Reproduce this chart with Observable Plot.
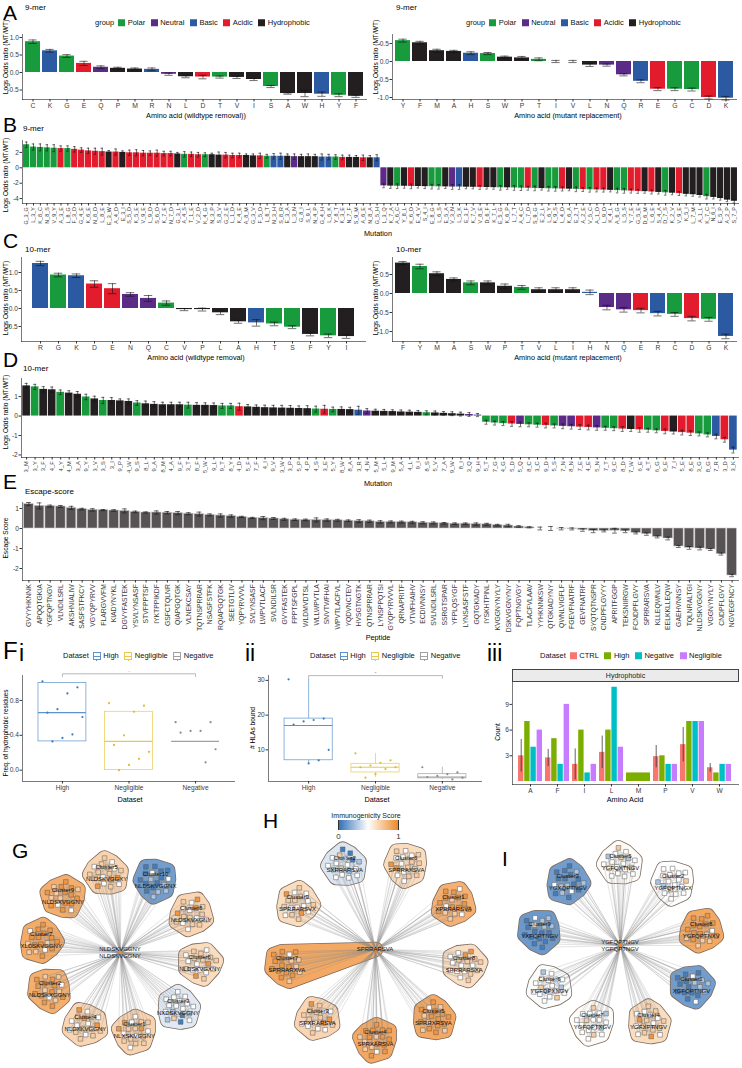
<!DOCTYPE html>
<html><head><meta charset="utf-8">
<script src="https://cdn.jsdelivr.net/npm/d3@7"></script>
<script src="https://cdn.jsdelivr.net/npm/@observablehq/plot@0.6"></script>
<style>
body{margin:0;background:#fff;}
#root{position:relative;width:742px;height:1068px;overflow:hidden;font-family:"Liberation Sans",Arial,Helvetica,sans-serif;color:#000;background:#fff;}
.t{position:absolute;white-space:nowrap;line-height:1;}
</style></head><body><div id="root"></div><script>
// ================= DATA =================
const groupNames = ["Polar","Neutral","Basic","Acidic","Hydrophobic"];
const groupColors = ["#179b3d","#5c2a87","#2c5aa2","#e21c2c","#231f20"];
const polarAA = ["C","G","S","T","Y"], neutralAA = ["N","Q"], basicAA = ["H","K","R"], acidicAA = ["D","E"], hydrophobicAA = ["A","F","I","L","M","P","V","W"];

// A: 9-mer
const a9RemovalAA = ["C","K","G","E","Q","P","M","R","N","L","D","T","V","I","S","A","W","H","Y","F"];
const a9RemovalLOR = [0.88,0.62,0.47,0.26,0.15,0.12,0.10,0.09,-0.05,-0.12,-0.13,-0.13,-0.14,-0.20,-0.40,-0.60,-0.60,-0.62,-0.65,-0.68];
const a9RemovalErr = [0.05,0.04,0.04,0.06,0.04,0.03,0.03,0.04,0.03,0.03,0.05,0.03,0.03,0.03,0.03,0.02,0.09,0.06,0.04,0.03];
const a9ReplAA = ["Y","F","M","A","H","S","W","P","T","I","V","L","N","Q","R","E","G","C","D","K"];
const a9ReplLOR = [0.58,0.52,0.30,0.28,0.23,0.22,0.12,0.10,0.06,0.0,0.0,-0.10,-0.10,-0.37,-0.55,-0.77,-0.77,-0.78,-1.0,-1.02];
const a9ReplErr = [0.04,0.04,0.04,0.03,0.04,0.03,0.03,0.04,0.04,0.03,0.03,0.04,0.03,0.03,0.04,0.04,0.04,0.04,0.04,0.05];

// B: 9-mer mutations
const b9Mutations = ("G_3_G L_3_Y K_8_C N_8_S V_9_Y A_3_E L_8_G F_3_D G_4_E K_6_E N_8_D L_8_E E_3_W A_4_D E_3_I S_5_D K_5_E V_9_E L_9_D S_6_D K_7_E N_7_D G_3_L A_4_S T_1_E V_2_D K_4_G N_3_P S_8_V G_2_E L_1_D K_4_E A_8_M G_3_V F_5_D L_6_T N_3_H S_8_R E_3_A L_3_N G_8_I S_9_L N_4_P G_4_H L_6_K Y_8_T K_3_E N_7_F S_9_M A_6_E N_8_A G_5_H " +
  "L_3_Q K_7_A A_6_C Y_8_L K_6_D E_4_V S_4_I E_8_G L_6_S E_5_A V_3_N L_5_K E_3_F K_7_V V_8_E D_6_F K_7_L E_5_G K_6_P L_7_T A_4_C L_7_D S_9_G E_2_L L_6_Y K_9_S L_4_D K_6_A E_2_T A_2_E V_5_C A_1_D L_9_D K_4_L A_6_G L_5_S Y_7_E G_5_E D_6_M L_6_E S_4_A D_7_S K_2_V V_9_E K_5_I L_7_M A_1_L K_7_C N_6_I E_5_P A_2_P S_7_P").split(" ");
const b9LOR = [3.0,2.7,2.65,2.6,2.55,2.5,2.5,2.4,2.3,2.2,2.15,2.1,2.05,2.05,2.0,1.95,1.95,1.9,1.9,1.9,1.85,1.85,1.8,1.75,1.75,1.7,1.7,1.7,1.65,1.65,1.6,1.6,1.6,1.55,1.55,1.5,1.5,1.5,1.5,1.45,1.45,1.45,1.45,1.4,1.4,1.4,1.35,1.35,1.35,1.3,1.3,1.3,
  -2.35,-2.38,-2.4,-2.4,-2.42,-2.43,-2.45,-2.45,-2.47,-2.48,-2.5,-2.5,-2.52,-2.53,-2.55,-2.56,-2.58,-2.6,-2.6,-2.62,-2.65,-2.66,-2.68,-2.7,-2.72,-2.74,-2.76,-2.78,-2.8,-2.83,-2.86,-2.88,-2.9,-2.93,-2.96,-3.0,-3.03,-3.07,-3.1,-3.15,-3.2,-3.25,-3.3,-3.35,-3.45,-3.5,-3.6,-3.75,-3.85,-4.0,-4.2,-4.35];
const b9Err = [0.35,0.4,0.45,0.4,0.45,0.35,0.35,0.35,0.3,0.35,0.4,0.45,0.2,0.4,0.2,0.35,0.4,0.35,0.3,0.4,0.3,0.3,0.2,0.35,0.3,0.3,0.25,0.2,0.4,0.35,0.3,0.3,0.2,0.25,0.35,0.25,0.35,0.4,0.3,0.35,0.3,0.35,0.3,0.4,0.35,0.3,0.3,0.3,0.25,0.35,0.3,0.4,
  0.25,0.3,0.3,0.25,0.3,0.2,0.25,0.3,0.3,0.2,0.3,0.3,0.2,0.2,0.25,0.2,0.2,0.3,0.2,0.3,0.3,0.25,0.3,0.2,0.3,0.3,0.25,0.2,0.3,0.25,0.3,0.25,0.25,0.2,0.3,0.3,0.25,0.25,0.2,0.25,0.2,0.3,0.2,0.25,0.2,0.2,0.2,0.3,0.2,0.2,0.2,0.2];

// C: 10-mer
const c10RemovalAA = ["R","G","K","D","E","N","Q","C","V","P","L","A","H","T","S","F","Y","I"];
const c10RemovalLOR = [1.25,0.93,0.91,0.68,0.55,0.39,0.28,0.15,-0.03,-0.03,-0.12,-0.37,-0.40,-0.43,-0.52,-0.72,-0.76,-0.78];
const c10RemovalErr = [0.06,0.05,0.05,0.09,0.14,0.05,0.08,0.06,0.03,0.04,0.05,0.04,0.09,0.05,0.04,0.04,0.05,0.05];
const c10ReplAA = ["F","Y","M","A","S","W","P","T","V","L","I","H","N","Q","E","R","C","D","G","K"];
const c10ReplLOR = [0.80,0.71,0.52,0.37,0.28,0.28,0.19,0.16,0.10,0.10,0.10,0.03,-0.37,-0.43,-0.45,-0.53,-0.55,-0.66,-0.68,-1.13];
const c10ReplErr = [0.04,0.06,0.05,0.04,0.05,0.05,0.06,0.05,0.05,0.05,0.05,0.06,0.06,0.06,0.06,0.06,0.05,0.06,0.05,0.06];

// D: 10-mer mutations
const d10Mutations = ("3_M 3_Y 3_F 4_F 4_Y 4_M 3_A 9_Y 3_V 3_S 3_I 9_P 4_W 9_S 8_L 9_A 8_M 4_A 9_F 3_T 8_F 5_W 9_L 9_T 8_Y 4_D 5_F 7_F 4_I 9_V 3_W 3_P 5_P 4_P 4_S 3_E 5_Y 8_W 8_A 3_R 4_N " +
  "5_M 5_L 9_M 5_A 4_L 9_I 8_S 5_V 7_A 9_W 8_I 3_Q 9_H 5_T 7_G 4_G 5_D 5_Q 8_C 3_C 9_D 5_S 7_N 8_N 7_E 4_E 5_N 7_T 9_C 8_D 7_W 6_E 4_T 6_G 9_E 7_I 5_E 8_E 3_G 8_G 7_R 3_D 3_K").split(" ");
const d10LOR = [1.55,1.5,1.37,1.35,1.22,1.18,1.12,0.98,0.88,0.8,0.8,0.78,0.75,0.67,0.63,0.6,0.58,0.58,0.58,0.56,0.55,0.55,0.54,0.52,0.52,0.48,0.47,0.45,0.43,0.42,0.41,0.4,0.39,0.38,0.36,0.35,0.34,0.34,0.33,0.3,0.26,
  0.25,0.24,0.23,0.21,0.2,0.19,0.17,0.16,0.14,0.12,0.1,0.08,0.05,
  -0.32,-0.36,-0.39,-0.41,-0.43,-0.45,-0.47,-0.49,-0.51,-0.53,-0.55,-0.57,-0.59,-0.61,-0.63,-0.65,-0.67,-0.69,-0.71,-0.73,-0.76,-0.79,-0.82,-0.85,-0.88,-0.92,-0.97,-1.05,-1.22,-1.75];
const d10Err = [0.13,0.13,0.14,0.14,0.12,0.12,0.14,0.14,0.14,0.16,0.15,0.1,0.13,0.12,0.14,0.14,0.13,0.13,0.13,0.15,0.14,0.13,0.13,0.13,0.13,0.18,0.12,0.12,0.13,0.13,0.14,0.14,0.13,0.15,0.15,0.2,0.12,0.13,0.12,0.2,0.12,
  0.1,0.1,0.09,0.1,0.1,0.09,0.1,0.1,0.09,0.1,0.1,0.1,0.08,0.1,0.1,0.1,0.12,0.12,0.1,0.1,0.12,0.1,0.12,0.12,0.12,0.12,0.12,0.1,0.1,0.12,0.1,0.12,0.1,0.1,0.12,0.1,0.12,0.12,0.1,0.1,0.12,0.12,0.15];

// E: escape score
const ePeptides = ["GVYYHKNNK","APQQTGKIA","YGFQPTNGV","VLNDILSRL","AKSHNIALIW","SASFSTFKCY","VGYQPYRVV","FLARGVVFM","KIADYNYKL","DGVYFASTEK","YSVLYNSASF","STVFPPTSF","IYKTPPIKDF","GSFCTQLNR","QIAPGQTGK","VLNEKCSAY","TQTNSPRRAR","NSASFSTFK","RQIAPGQTGK","SEETGTLIV","YQPYRVVVL","SVLYNSASF","LWPVTLACF","SVLNDILSR","GVYFASTEK","FPPTSFGPL","WLDMVDTSL","WLLWPVTLA","SNVTWFHAI","WPVTLACFVL","YQDVNCTEV","HVSGTNGTK","QTNSPRRAR",
  "LYNSPPQTSI","GYQPYRVVVL","QRNAPRITF","VTWFHAIHV","ECDIVNNSY","SVLNDILSRL","SSRGTSPAR","YFPLQSYGF","LYNSASFSTF","GQTGKIADY","IYSKHTPINL","KVGGNYNYLY","DSKVGGNYNY","FQPTNGVGY","TLACFVLAAV","YYHKNNKSW","QTGKIADYNY","QWNLVIGFLF","FGEVFNATRF","GEVFNATRF","SYQTQTNSPR","CNDPFLGVYY","APRITFGGP","TEKSNIIRGW","FCNDPFLGVY","SPRRARSVA","KLLEQWNLV","EELKKLLEQW","GAEHVNNSY","TQLNRALTGI","NLDSKVGGNY","VGGNYNYLY","CNDPFLGVY","NGVEGFNCY"];
const eScore = [1.22,1.13,1.12,1.1,1.03,0.97,0.93,0.92,0.9,0.88,0.83,0.8,0.8,0.79,0.77,0.74,0.72,0.68,0.65,0.62,0.58,0.53,0.52,0.5,0.46,0.44,0.43,0.43,0.42,0.41,0.39,0.37,0.36,
  0.33,0.33,0.32,0.31,0.29,0.28,0.26,0.24,0.24,0.22,0.21,0.17,0.15,0.10,0.06,0.0,0.0,-0.01,-0.02,-0.08,-0.13,-0.12,-0.11,-0.14,-0.22,-0.28,-0.42,-0.50,-0.90,-0.97,-1.0,-1.05,-1.28,-2.35];
const eErr = [0.08,0.15,0.05,0.05,0.08,0.04,0.06,0.03,0.04,0.1,0.04,0.03,0.08,0.06,0.08,0.05,0.1,0.05,0.08,0.06,0.03,0.03,0.08,0.05,0.05,0.04,0.04,0.1,0.06,0.05,0.04,0.07,0.06,
  0.06,0.05,0.05,0.05,0.05,0.05,0.04,0.04,0.04,0.06,0.05,0.04,0.06,0.04,0.03,0.07,0.1,0.06,0.05,0.06,0.08,0.05,0.12,0.07,0.05,0.06,0.05,0.07,0.05,0.07,0.07,0.05,0.05,0.06];

// F i / ii: boxplots
const fDatasets = ["High","Negligible","Negative"];
const fiHighPts = [1.02,0.95,0.88,0.70,0.66,0.61,0.41,0.37,0.33];
const fiNegligiblePts = [0.77,0.74,0.67,0.40,0.29,0.21,0.13,0.06,0.0];
const fiNegativePts = [0.55,0.55,0.45,0.45,0.43,0.24,0.09];
const fiQ1 = [0.33,0.0,0.33], fiMedian = [0.66,0.33,0.33], fiQ3 = [1.0,0.67,0.33], fiWhiskLo = [0.33,0.0,0.33], fiWhiskHi = [1.0,0.67,0.33];
const fiiHighPts = [30.3,19.0,18.6,18.2,17.3,10.0,7.0,6.1];
const fiiNegligiblePts = [9.0,7.0,6.3,5.5,5.0,5.0,4.5,3.0,2.0];
const fiiNegativePts = [5.0,3.5,3.0,2.5,2.2,2.0,1.5];
const fiiQ1 = [7,3.5,1.8], fiiMedian = [17,5,2.2], fiiQ3 = [19,6,3], fiiWhiskLo = [6.1,2,1.5], fiiWhiskHi = [30.3,9,5];
// F iii: counts
const f3AA = ["A","F","I","L","M","P","V","W"];
const f3Sets = ["CTRL","High","Negative","Negligible"];
const f3Ctrl = [3.0,2.75,2.0,3.4,null,2.9,4.3,1.6];
const f3CtrlErr = [1.9,1.0,1.8,1.9,null,1.3,2.0,0.5];
const f3High = [7,5,6,6,1,3,7,1];
const f3Negative = [4,2,1,11,null,2,7,2];
const f3Negligible = [6,9,2,4,null,2,7,2];

// G/H/I networks (node codes: o=0.95 l=0.72 w=0.5 c=0.3 b=0.05)
const gCenter = "NLDSKVGGNY";
const gClusters = ["Cluster5","Cluster10","Cluster8","Cluster6","Cluster3","Cluster1","Cluster4","Cluster2","Cluster7","Cluster9"];
const gMotifs = ["NLDSKVGGXY","NLDSKVGGNX","NLDSKVXGNY","NLDSKVGXNY","NXDSKVGGNY","NLXSKVGGNY","NLDXKVGGNY","NLDSKXGGNY","XLDSKVGGNY","NLDSXVGGNY"];
const gNodes = ["lwlolwwlolwlwlolwl","bcbbwcbbcbwbbcbbcb","lwwlolwlwwlolwlwlo","wlwlowlwwlolwlwlwl","wwcwbwwlwcwwbwwcww","lwlolwlwllowlwlolw","wlolwlwlolwlwwlolw","olowoloolowolooloo","ooloowoolooloowolo","loolowooloolooowol"];
const hCenter = "SPRRARSVA";
const hClusters = ["Cluster2","Cluster6","Cluster1","Cluster8","Cluster5","Cluster4","Cluster3","Cluster7","Cluster9"];
const hMotifs = ["SXRRARSVA","SPRRAXSVA","XPRRARSVA","SPRRARSXA","SPRRXRSVA","SPRXARSVA","SPXRARSVA","SPRRARXVA","SPRRARSVX"];
const hNodes = ["wlwcwbwlwcbwwcwbww","lwlwwlowlwlwwlolwl","olowoloolowoolooow","wlwlwwolwlwwlwolwl","oolooloowoolooolol","loooloolowoolooloo","lwlolwwlowlwlwlolw","ooloolowoolooloolo","wlwwlolwlwwlwlolwl"];
const hWedgeCluster = "Cluster7";
const iCenter = "YGFQPTNGV";
const iClusters = ["Cluster5","Cluster2","Cluster8","Cluster1","Cluster4","Cluster7","Cluster6","Cluster9","Cluster3"];
const iMotifs = ["YGFQXTNGV","YGFQPTNGX","YGFQPTNXV","XGFQPTNGV","YGFXPTNGV","YGFQPTXGV","YGFQPXNGV","YXFQPTNGV","YGXQPTNGV"];
const iNodes = ["wwlwwcwwlwwwcwwlww","wwwlwwcwwwlwwwcwww","ooloolowoolooloolo","bcbbcbwbbcbbcbbwbc","lwlwlowlwlwlowlwlw","wwlwwwcwwlwwwlwwcw","wcwwlwwwcwwlwwwcww","bbcbwbbcbbcbwbbcbb","cbbcbwbbcbbwcbbcbb"];

// ================= HELPERS =================
const FONT = '"Liberation Sans", Arial, Helvetica, sans-serif';
const root = document.getElementById("root");
const baseStyle = {fontFamily: FONT, fontSize: "6.6px", color: "#333", background: "transparent", overflow: "visible"};
const fmt1 = d => d.toFixed(1);
const fmt0 = d => String(d);
const groupOf = aa => polarAA.includes(aa) ? 0 : neutralAA.includes(aa) ? 1 : basicAA.includes(aa) ? 2 : acidicAA.includes(aa) ? 3 : 4;
const aaColor = aa => groupColors[groupOf(aa)];

function place(el, x, y) { el.style.position = "absolute"; el.style.left = x + "px"; el.style.top = y + "px"; root.appendChild(el); return el; }
function addText(str, x, y, o = {}) {
  const d = document.createElement("div");
  d.className = "t"; d.textContent = str;
  const s = o.size ?? 8;
  d.style.fontSize = s + "px"; d.style.left = x + "px"; d.style.top = y + "px";
  d.style.fontWeight = o.weight ?? "normal"; d.style.color = o.color ?? "#000";
  if (o.rotate) d.style.transform = "translate(-50%,-50%) rotate(-90deg)";
  else d.style.transform = `translate(${o.anchor === "middle" ? "-50%" : o.anchor === "end" ? "-100%" : "0"},-50%)`;
  root.appendChild(d); return d;
}
function addLetter(str, x, capTop, size = 21) {
  const d = document.createElement("div");
  d.className = "t"; d.textContent = str;
  d.style.fontSize = size + "px"; d.style.left = x + "px"; d.style.top = (capTop - 0.13 * size) + "px";
  root.appendChild(d);
}
function swatchLegend(x, y, title, items, glyph) {
  const d = document.createElement("div");
  d.className = "t";
  d.style.cssText += `left:${x}px;top:${y}px;transform:translateY(-50%);display:flex;align-items:center;font-size:7.5px;color:#111;`;
  d.innerHTML = `<span style="margin-right:4px">${title}</span>` + items.map(([lab, col]) => glyph(col) + `<span style="margin-right:5.5px">${lab}</span>`).join("");
  root.appendChild(d);
}
const fillGlyph = col => `<span style="display:inline-block;width:7px;height:7px;background:${col};margin-right:2.5px"></span>`;
const boxGlyph = col => `<span style="position:relative;display:inline-block;width:6px;height:6px;border:0.8px solid ${col};margin-right:2.5px"><span style="position:absolute;left:0;right:0;top:2.6px;height:0.9px;background:${col}"></span><span style="position:absolute;left:2.6px;top:-1.5px;width:0.8px;height:1.5px;background:${col}"></span><span style="position:absolute;left:2.6px;bottom:-1.5px;width:0.8px;height:1.5px;background:${col}"></span></span>`;
const AXIS_TEXT = "#3a3a3a";

function barPanel(o) {
  const n = o.values.length;
  const rows = o.values.map((v, i) => ({i, v, e: o.errors[i], fill: o.fill(i)}));
  const bw = (o.width - o.mL - o.mR) / (n + 0.2) * 0.9;
  const cap = bw * (o.capFrac ?? 0.22);
  const plot = Plot.plot({
    width: o.width, height: o.height,
    marginLeft: o.mL, marginRight: o.mR, marginTop: o.mT, marginBottom: o.mB,
    style: {...baseStyle},
    x: {type: "band", domain: d3.range(n), paddingInner: 0.1, paddingOuter: 0.15},
    y: {domain: o.domain},
    color: {type: "identity"},
    marks: [
      Plot.barY(rows, {x: "i", y: "v", fill: "fill", stroke: o.stroke ?? "none", strokeWidth: o.strokeWidth ?? 0}),
      Plot.ruleX(rows, {x: "i", y1: d => d.v - d.e, y2: d => d.v + d.e, stroke: "#111", strokeWidth: 0.6}),
      Plot.tickY(rows, {x: "i", y: d => d.v + d.e, stroke: "#111", strokeWidth: 0.6, insetLeft: cap, insetRight: cap}),
      Plot.tickY(rows, {x: "i", y: d => d.v - d.e, stroke: "#111", strokeWidth: 0.6, insetLeft: cap, insetRight: cap}),
      Plot.frame({anchor: "left", stroke: "#222", strokeWidth: 0.6}),
      Plot.frame({anchor: "bottom", stroke: "#222", strokeWidth: 0.6}),
      Plot.axisY({ticks: o.ticks, tickFormat: o.fmt, tickSize: 2.5, tickPadding: 1.2, label: null, fill: AXIS_TEXT, stroke: "#333"}),
      Plot.axisX({tickFormat: i => o.labels[i], tickSize: 2.5, tickPadding: 1.2, tickRotate: o.rotate ?? 0, label: null, fontSize: o.xFont ?? 6.8, fill: AXIS_TEXT, stroke: "#333"})
    ]
  });
  place(plot, o.left, o.top);
}

function boxPanel(o) {
  const rows = fDatasets.map((g, k) => ({g: k + 1, q1: o.q1[k], med: o.med[k], q3: o.q3[k], lo: o.lo[k], hi: o.hi[k], stroke: o.colors[k]}));
  const pts = [];
  o.pts.forEach((arr, k) => arr.forEach((v, j) => pts.push({g: k + 1, j, v, fill: o.ptColors[k]})));
  const jit = j => (((j * 7) % 9) - 4) / 4 * 0.3;
  const allMax = d3.max([...pts.map(p => p.v), ...o.hi]);
  const range = o.domain[1] - o.domain[0];
  const bTop = allMax + o.gap * range, bDrop = bTop - 0.025 * range;
  const bracket = [{x: 1, y: bDrop}, {x: 1, y: bTop}, {x: 3, y: bTop}, {x: 3, y: bDrop}];
  const plot = Plot.plot({
    width: o.width, height: o.height, marginLeft: o.mL, marginRight: o.mR, marginTop: o.mT, marginBottom: o.mB,
    style: {...baseStyle},
    x: {domain: [0.4, 3.6]}, y: {domain: o.domain},
    color: {type: "identity"},
    marks: [
      Plot.ruleX(rows, {x: "g", y1: "lo", y2: "q1", stroke: "stroke", strokeWidth: 0.7}),
      Plot.ruleX(rows, {x: "g", y1: "q3", y2: "hi", stroke: "stroke", strokeWidth: 0.7}),
      Plot.rect(rows, {x1: d => d.g - 0.36, x2: d => d.g + 0.36, y1: "q1", y2: "q3", fill: "white", stroke: "stroke", strokeWidth: 0.7}),
      Plot.ruleY(rows, {x1: d => d.g - 0.36, x2: d => d.g + 0.36, y: "med", stroke: "stroke", strokeWidth: 1.1}),
      Plot.dot(pts, {x: d => d.g + jit(d.j), y: "v", r: 1.1, fill: "fill"}),
      Plot.line(bracket, {x: "x", y: "y", stroke: "#9a9a9a", strokeWidth: 0.7}),
      Plot.text([o.sig], {x: 2, y: bTop, text: d => d, dy: -4, fontSize: 6, fill: "#555"}),
      Plot.ruleX([0.4], {stroke: "#222", strokeWidth: 0.6}),
      Plot.ruleY([o.domain[0]], {stroke: "#222", strokeWidth: 0.6}),
      Plot.axisY({ticks: o.ticks, tickFormat: o.fmt, tickSize: 2.5, tickPadding: 1.2, label: null, fill: AXIS_TEXT, stroke: "#333"}),
      Plot.axisX({ticks: [1, 2, 3], tickFormat: i => fDatasets[i - 1], tickSize: 2.5, tickPadding: 1.2, label: null, fill: AXIS_TEXT, stroke: "#333"})
    ]
  });
  place(plot, o.left, o.top);
}

// ================= PANEL A =================
addLetter("A", 3, 5);
addText("9-mer", 25, 8);
addText("9-mer", 396, 8);
const grpItems = groupNames.map((g, i) => [g, groupColors[i]]);
swatchLegend(95, 23, "group", grpItems, fillGlyph);
swatchLegend(466, 23, "group", grpItems, fillGlyph);
barPanel({labels: a9RemovalAA, values: a9RemovalLOR, errors: a9RemovalErr, fill: i => aaColor(a9RemovalAA[i]),
  left: 0, top: 30, width: 371, height: 79, mL: 22, mR: 5, mT: 4, mB: 10, domain: [-0.771, 1.086], ticks: [-0.5, 0, 0.5, 1], fmt: fmt1});
barPanel({labels: a9ReplAA, values: a9ReplLOR, errors: a9ReplErr, fill: i => aaColor(a9ReplAA[i]),
  left: 371, top: 30, width: 371, height: 79, mL: 21, mR: 6, mT: 4, mB: 10, domain: [-1.056, 0.75], ticks: [-1, -0.5, 0, 0.5], fmt: fmt1});
addText("Logs Odds ratio (MT/WT)", 6, 57, {size: 6.6, rotate: true});
addText("Logs Odds ratio (MT/WT)", 375.5, 57, {size: 6.6, rotate: true});
addText("Amino acid (wildtype removal))", 196, 115.5, {size: 7.3, anchor: "middle"});
addText("Amino acid (mutant replacement)", 568, 115.5, {size: 7.3, anchor: "middle"});

// ================= PANEL B =================
addLetter("B", 3, 117);
addText("9-mer", 23, 129);
barPanel({labels: b9Mutations, values: b9LOR, errors: b9Err, fill: i => aaColor(b9Mutations[i].slice(-1)),
  left: 0, top: 136, width: 742, height: 100, mL: 22, mR: 4, mT: 4, mB: 33, domain: [-4.64, 3.55], ticks: [-4, -2, 0, 2], fmt: fmt0,
  rotate: -90, xFont: 5.4, capFrac: 0.3});
addText("Logs Odds ratio (MT/WT)", 6, 175, {size: 6.6, rotate: true});
addText("Mutation", 378, 234, {size: 7.3, anchor: "middle"});

// ================= PANEL C =================
addLetter("C", 3, 233);
addText("10-mer", 25, 250);
addText("10-mer", 396, 250);
barPanel({labels: c10RemovalAA, values: c10RemovalLOR, errors: c10RemovalErr, fill: i => aaColor(c10RemovalAA[i]),
  left: 0, top: 254, width: 371, height: 99, mL: 21, mR: 6, mT: 3, mB: 12, domain: [-0.917, 1.417], ticks: [-0.5, 0, 0.5, 1], fmt: fmt1});
barPanel({labels: c10ReplAA, values: c10ReplLOR, errors: c10ReplErr, fill: i => aaColor(c10ReplAA[i]),
  left: 371, top: 254, width: 371, height: 99, mL: 21, mR: 6, mT: 3, mB: 12, domain: [-1.263, 0.947], ticks: [-1, -0.5, 0, 0.5], fmt: fmt1});
addText("Logs Odds ratio (MT/WT)", 6, 298, {size: 6.6, rotate: true});
addText("Logs Odds ratio (MT/WT)", 375.5, 298, {size: 6.6, rotate: true});
addText("Amino acid (wildtype removal)", 196, 357.5, {size: 7.3, anchor: "middle"});
addText("Amino acid (mutant replacement)", 568, 357.5, {size: 7.3, anchor: "middle"});

// ================= PANEL D =================
addLetter("D", 3, 352);
addText("10-mer", 23, 369);
barPanel({labels: d10Mutations, values: d10LOR, errors: d10Err, fill: i => aaColor(d10Mutations[i].slice(-1)),
  left: 0, top: 375, width: 742, height: 110, mL: 21, mR: 4, mT: 3, mB: 28, domain: [-2.13, 1.93], ticks: [-2, -1, 0, 1], fmt: fmt0,
  rotate: -90, xFont: 5.8, capFrac: 0.3});
addText("Logs Odds ratio (MT/WT)", 6, 412, {size: 6.6, rotate: true});
addText("Mutation", 378, 484, {size: 7.3, anchor: "middle"});

// ================= PANEL E =================
addLetter("E", 3, 474);
addText("Escape-score", 25, 492);
barPanel({labels: ePeptides, values: eScore, errors: eErr, fill: () => "#575354", stroke: "#c9c9c9", strokeWidth: 0.6,
  left: 0, top: 499, width: 742, height: 137, mL: 22, mR: 4, mT: 3, mB: 56, domain: [-2.6, 1.3], ticks: [-2, -1, 0, 1], fmt: fmt0,
  rotate: -90, xFont: 6.8, capFrac: 0.25});
addText("Escape Score", 6, 538, {size: 6.6, rotate: true});
addText("Peptide", 378, 638, {size: 7.3, anchor: "middle"});

// ================= PANEL F =================
addLetter("F", 3, 642, 24);
addLetter("i", 19, 645, 23);
addLetter("ii", 245, 645, 23);
addLetter("iii", 487, 645, 23);
const boxCols = ["#5d93cc", "#e8c94e", "#a0a0a0"];
const ptCols = ["#3a7bbd", "#e0b926", "#8a8a8a"];
swatchLegend(63, 656, "Dataset", fDatasets.map((g, k) => [g, boxCols[k]]), boxGlyph);
swatchLegend(310, 656, "Dataset", fDatasets.map((g, k) => [g, boxCols[k]]), boxGlyph);
boxPanel({q1: fiQ1, med: fiMedian, q3: fiQ3, lo: fiWhiskLo, hi: fiWhiskHi, pts: [fiHighPts, fiNegligiblePts, fiNegativePts],
  colors: boxCols, ptColors: ptCols, left: 0, top: 664, width: 240, height: 130, mL: 22, mR: 5, mT: 11, mB: 13,
  domain: [-0.13, 1.086], ticks: [0, 0.4, 0.8], fmt: fmt1, sig: ".", gap: 0.07});
boxPanel({q1: fiiQ1, med: fiiMedian, q3: fiiQ3, lo: fiiWhiskLo, hi: fiiWhiskHi, pts: [fiiHighPts, fiiNegligiblePts, fiiNegativePts],
  colors: boxCols, ptColors: ptCols, left: 240, top: 664, width: 250, height: 130, mL: 28, mR: 8, mT: 11, mB: 13,
  domain: [0.9, 31.4], ticks: [10, 20, 30], fmt: fmt0, sig: "-", gap: 0.035});
addText("Freq. of hydrophobic residues", 6, 733, {size: 6.6, rotate: true});
addText("# HLAs bound", 253, 728, {size: 6.6, rotate: true});
addText("Dataset", 130, 800, {size: 7.3, anchor: "middle"});
addText("Dataset", 377, 800, {size: 7.3, anchor: "middle"});

// F iii grouped bars
const f3Colors = ["#F8766D", "#7CAE00", "#00BFC4", "#C77CFF"];
swatchLegend(540, 656, "Dataset", f3Sets.map((s, k) => [s, f3Colors[k]]), fillGlyph);
{
  const series = [f3Ctrl, f3High, f3Negative, f3Negligible];
  const rows = [];
  f3AA.forEach((aa, a) => {
    const present = series.map((s, k) => k).filter(k => series[k][a] != null);
    present.forEach((k, idx) => rows.push({aa, v: series[k][a], k, idx, m: present.length, fill: f3Colors[k]}));
  });
  const width = 252, mL = 22, mR = 4;
  const bw = (width - mL - mR) / (f3AA.length + 0.2) * 0.9;
  const combos = d3.groups(rows, d => d.idx + "/" + d.m);
  const barMarks = combos.map(([key, rs]) => {
    const {idx, m} = rs[0]; const q = bw / m;
    return Plot.barY(rs, {x: "aa", y: "v", fill: "fill", insetLeft: idx * q, insetRight: (m - 1 - idx) * q});
  });
  const errRows = f3AA.map((aa, a) => ({aa, v: f3Ctrl[a], e: f3CtrlErr[a]})).filter(d => d.v != null);
  const plot = Plot.plot({
    width, height: 130, marginLeft: mL, marginRight: mR, marginTop: 17, marginBottom: 10,
    style: {...baseStyle},
    x: {type: "band", domain: f3AA, paddingInner: 0.1, paddingOuter: 0.15},
    y: {domain: [-0.35, 11.67]},
    color: {type: "identity"},
    marks: [
      ...barMarks,
      Plot.ruleX(errRows, {x: "aa", y1: d => d.v - d.e, y2: d => d.v + d.e, dx: -bw / 2 + bw / 8, stroke: "#222", strokeWidth: 0.7}),
      Plot.frame({anchor: "left", stroke: "#222", strokeWidth: 0.6}),
      Plot.frame({anchor: "bottom", stroke: "#222", strokeWidth: 0.6}),
      Plot.axisY({ticks: [3, 6, 9], tickSize: 2.5, tickPadding: 1.2, label: null, fill: AXIS_TEXT, stroke: "#333"}),
      Plot.axisX({tickSize: 2.5, tickPadding: 1.2, label: null, fill: AXIS_TEXT, stroke: "#333"})
    ]
  });
  place(plot, 490, 664);
  const strip = document.createElement("div");
  strip.className = "t";
  strip.style.cssText += "left:512px;top:669px;width:225px;height:11px;background:#ebebeb;border:0.7px solid #444;font-size:7px;display:flex;align-items:center;justify-content:center;color:#222;";
  strip.textContent = "Hydrophobic";
  root.appendChild(strip);
  addText("Count", 498, 732, {size: 6.6, rotate: true});
  addText("Amino Acid", 625, 800, {size: 7.3, anchor: "middle"});
}

// ================= NETWORKS =================
const scoreOf = {o: 0.95, l: 0.72, w: 0.5, c: 0.3, b: 0.05};
const immColor = d3.scaleLinear().domain([0, 0.5, 1]).range(["#2f6eb5", "#ffffff", "#ee8a2c"]);
function network(o) {
  const n = o.names.length;
  const clusters = o.names.map((name, i) => {
    const a = (o.start + i * 360 / n) * Math.PI / 180;
    const scores = [...o.nodes[i]].map(c => scoreOf[c]);
    const mean = d3.mean(scores);
    return {name, motif: o.motifs[i], x: o.cx + o.R * Math.cos(a), y: o.cy + o.R * Math.sin(a), scores,
      blob: d3.interpolateRgb("#ffffff", immColor(0.5 + (mean - 0.5) * 1.25))(0.82)};
  });
  const pts = [];
  clusters.forEach((c, ci) => {
    const m = c.scores.length;
    c.pts = c.scores.map((s, j) => {
      const rr = 17 * Math.sqrt((j + 0.5) / m), th = j * 2.39996 + ci;
      const p = {x: c.x + rr * Math.cos(th), y: c.y + rr * Math.sin(th), fill: immColor(s)};
      pts.push(p); return p;
    });
  });
  const intra = [];
  clusters.forEach(c => { const m = c.pts.length; c.pts.forEach((p, j) => [1, 3, 7].forEach(k => { const q = c.pts[(j + k) % m]; intra.push({x1: p.x, y1: p.y, x2: q.x, y2: q.y}); })); });
  const marks = [];
  clusters.forEach(c => {
    const hp = o.wedge === c.name ? [...c.pts, {x: o.cx, y: o.cy}] : c.pts;
    marks.push(Plot.hull(hp, {x: "x", y: "y", stroke: "#7d6b5e", strokeWidth: 15.6, strokeLinejoin: "round", fill: "none"}));
    marks.push(Plot.hull(hp, {x: "x", y: "y", stroke: c.blob, strokeWidth: 14, strokeLinejoin: "round", fill: c.blob}));
  });
  marks.push(Plot.link(intra, {x1: "x1", y1: "y1", x2: "x2", y2: "y2", stroke: "#9a9a9a", strokeWidth: 0.3, strokeOpacity: 0.7}));
  marks.push(Plot.link(pts, {x1: () => o.cx, y1: () => o.cy, x2: "x", y2: "y", stroke: "#8d8d8d", strokeWidth: 0.35, strokeOpacity: 0.7}));
  marks.push(Plot.dot(pts, {x: "x", y: "y", symbol: "square", r: 2.6, fill: "fill", stroke: "#5a5a5a", strokeWidth: 0.5}));
  marks.push(Plot.dot([0], {x: () => o.cx, y: () => o.cy, r: 1.8, fill: "#ee8a2c"}));
  marks.push(Plot.text(clusters, {x: "x", y: "y", text: "name", dy: -7, fontSize: 6, fill: "#111"}));
  marks.push(Plot.text(clusters, {x: "x", y: "y", text: "motif", dy: 5, fontSize: 6, fill: "#111"}));
  const plot = Plot.plot({
    width: o.width, height: o.height, margin: 0,
    style: {...baseStyle},
    x: {domain: [0, o.width], range: [0, o.width], axis: null},
    y: {domain: [0, o.height], range: [0, o.height], axis: null},
    color: {type: "identity"},
    marks
  });
  place(plot, o.left, o.top);
}
function networkWithCenter(o, offsets) {
  network(o);
  offsets.forEach(dy => addText(o.center, o.left + o.cx, o.top + o.cy + dy, {size: 6, anchor: "middle", color: "#111"}));
}
networkWithCenter({names: gClusters, motifs: gMotifs, nodes: gNodes, center: gCenter, left: 0, top: 830, width: 245, height: 238, cx: 120, cy: 122, R: 80, start: -100}, [-3.5, 3.5]);
networkWithCenter({names: hClusters, motifs: hMotifs, nodes: hNodes, center: hCenter, wedge: hWedgeCluster, left: 245, top: 830, width: 250, height: 238, cx: 130, cy: 119, R: 90, start: -110}, [0]);
networkWithCenter({names: iClusters, motifs: iMotifs, nodes: iNodes, center: iCenter, left: 495, top: 830, width: 247, height: 238, cx: 125, cy: 115, R: 82, start: -90}, [-3.5, 3.5]);
addLetter("G", 12, 843);
addLetter("H", 263, 813);
addLetter("I", 502, 851);

// Immunogenicity legend
addText("Immunogenicity Score", 366, 815, {size: 7, anchor: "middle", color: "#222"});
{
  const leg = Plot.legend({
    color: {type: "linear", domain: [0, 1], interpolate: t => immColor(t)},
    width: 70, height: 24, marginLeft: 5, marginRight: 5, marginTop: 2, marginBottom: 12,
    ticks: 1, tickSize: 0, label: null, style: {...baseStyle, fontSize: "8px"}
  });
  place(leg, 333, 818);
}
</script></body></html>
